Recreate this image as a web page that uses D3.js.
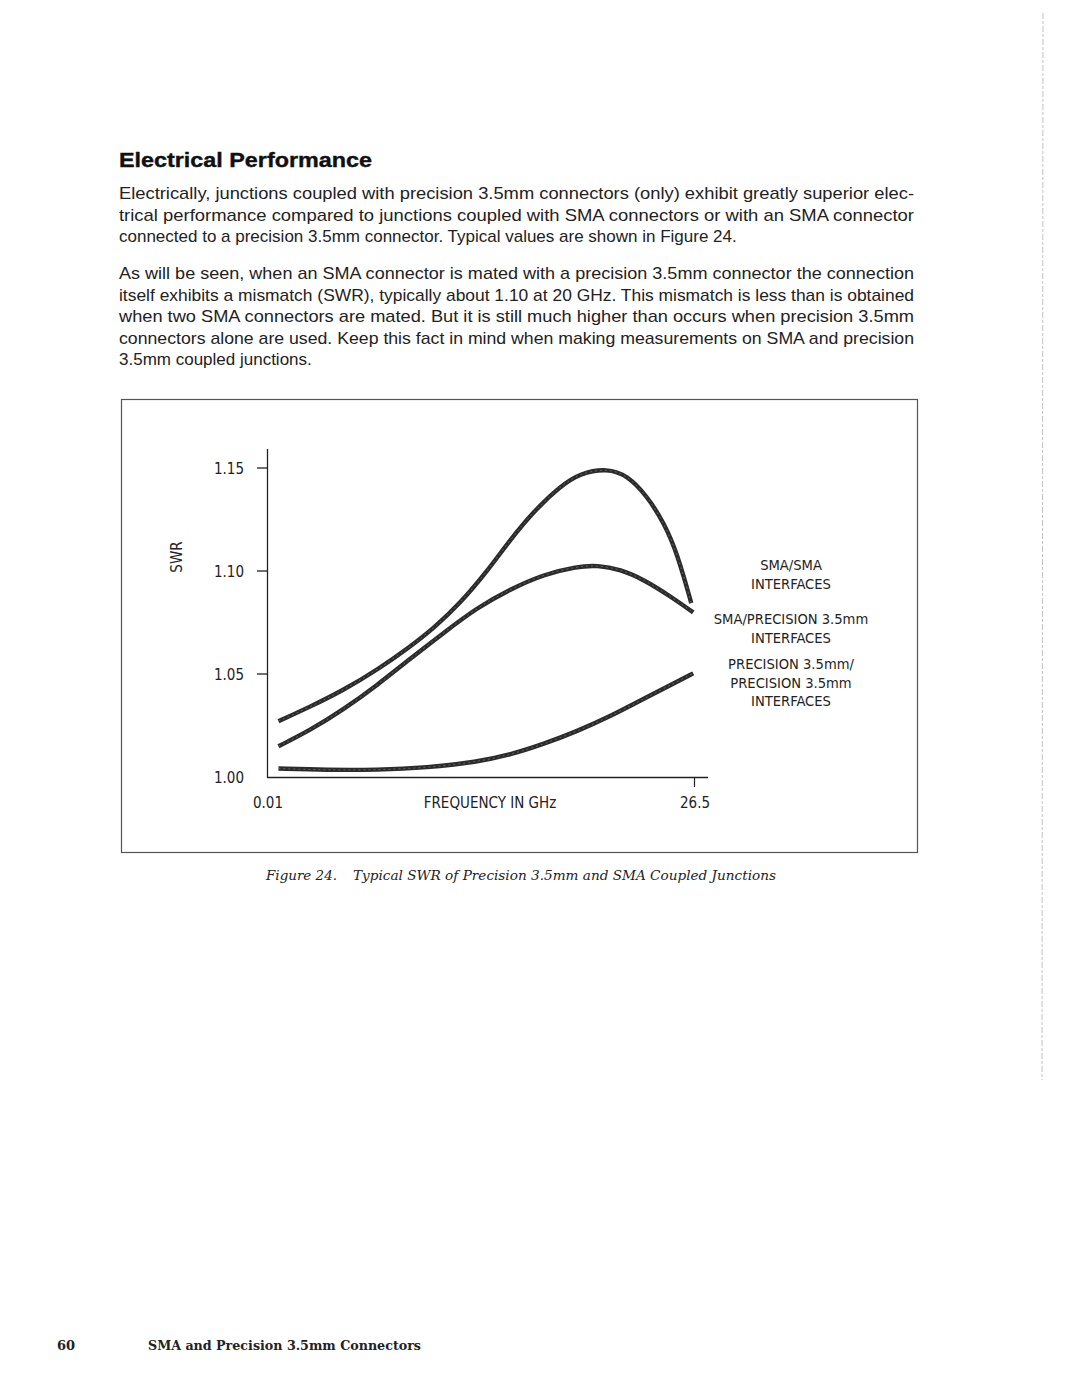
<!DOCTYPE html>
<html>
<head>
<meta charset="utf-8">
<script src="https://cdn.jsdelivr.net/npm/d3@7"></script>
<style>
  body { margin: 0; background: #fff; }
  svg { display: block; }
</style>
</head>
<body>
<svg id="page" width="1080" height="1397"></svg>
<script>
// values (GHz, SWR)
let freqSmaSma = [0.69, 2.66, 4.73, 6.80, 8.87, 10.32, 11.97, 13.63, 15.08, 16.53, 18.18, 19.42, 21.08, 22.32, 23.56, 24.6, 25.42, 26.3];
let swrSmaSma  = [1.0271, 1.0341, 1.0422, 1.0519, 1.0633, 1.0722, 1.0844, 1.0998, 1.1153, 1.129, 1.1412, 1.1475, 1.1498, 1.1465, 1.1364, 1.1234, 1.1088, 1.0844];

let freqSmaPrec = [0.69, 2.66, 4.73, 6.80, 8.87, 10.94, 13.01, 15.08, 17.15, 19.22, 20.46, 21.91, 23.36, 25.01, 26.42];
let swrSmaPrec  = [1.0149, 1.0227, 1.0328, 1.0445, 1.0575, 1.0700, 1.0822, 1.0912, 1.0984, 1.1022, 1.1028, 1.1008, 1.0958, 1.0877, 1.0799];

let freqPrecPrec = [0.69, 3.69, 6.80, 9.9, 13.01, 15.08, 17.15, 19.22, 21.29, 23.36, 25.22, 26.42];
let swrPrecPrec  = [1.0041, 1.0034, 1.0034, 1.0045, 1.0073, 1.0108, 1.0160, 1.0222, 1.0295, 1.0380, 1.0455, 1.0503];

let yTicks = [1.00, 1.05, 1.10, 1.15];
let xTicks = [0.01, 26.5];

let legendLines = [
  ["SMA/SMA", "INTERFACES"],
  ["SMA/PRECISION 3.5mm", "INTERFACES"],
  ["PRECISION 3.5mm/", "PRECISION 3.5mm", "INTERFACES"]
];

let para1 = [
  "Electrically, junctions coupled with precision 3.5mm connectors (only) exhibit greatly superior elec-",
  "trical performance compared to junctions coupled with SMA connectors or with an SMA connector",
  "connected to a precision 3.5mm connector. Typical values are shown in Figure 24."
];
let para2 = [
  "As will be seen, when an SMA connector is mated with a precision 3.5mm connector the connection",
  "itself exhibits a mismatch (SWR), typically about 1.10 at 20 GHz. This mismatch is less than is obtained",
  "when two SMA connectors are mated. But it is still much higher than occurs when precision 3.5mm",
  "connectors alone are used. Keep this fact in mind when making measurements on SMA and precision",
  "3.5mm coupled junctions."
];

let svg = d3.select("#page");
let sans = "'Liberation Sans', Arial, sans-serif";
let narrow = "'Liberation Sans Narrow', 'DejaVu Sans Condensed', sans-serif";
let serif = "'DejaVu Serif', 'Liberation Serif', serif";
let ink = "#222";

// 标题和正文
svg.append("text")
  .attr("x", 119).attr("y", 167)
  .attr("font-family", sans).attr("font-weight", "bold").attr("font-size", 21)
  .attr("fill", "#111")
  .attr("stroke", "#111").attr("stroke-width", 0.4)
  .attr("textLength", 253).attr("lengthAdjust", "spacingAndGlyphs")
  .text("Electrical Performance");

function paragraph(lines, y0) {
  lines.forEach(function (line, i) {
    let t = svg.append("text")
      .attr("x", 119).attr("y", y0 + i * 21.6)
      .attr("font-family", sans).attr("font-size", 17)
      .attr("fill", ink)
      .text(line);
    if (i < lines.length - 1)
      t.attr("textLength", 795).attr("lengthAdjust", "spacingAndGlyphs");
  });
}
paragraph(para1, 199);
paragraph(para2, 279);

// figure frame
svg.append("rect")
  .attr("x", 121.5).attr("y", 399.5)
  .attr("width", 796).attr("height", 453)
  .attr("fill", "none").attr("stroke", "#555").attr("stroke-width", 1.2);

// scales
let x = d3.scaleLinear().domain([0.01, 26.5]).range([267.5, 694.5]);
let y = d3.scaleLinear().domain([1.00, 1.15]).range([777, 468]);

// axis lines
svg.append("line")
  .attr("x1", 267.5).attr("x2", 267.5)
  .attr("y1", 449).attr("y2", 777.5)
  .attr("stroke", ink).attr("stroke-width", 1.3);
svg.append("line")
  .attr("x1", 267).attr("x2", 708)
  .attr("y1", 777.5).attr("y2", 777.5)
  .attr("stroke", ink).attr("stroke-width", 1.3);

// y ticks
let yAxis = d3.axisLeft(y).tickValues(yTicks).tickSize(0).tickPadding(0)
  .tickFormat(d3.format(".2f"));
let gy = svg.append("g").attr("transform", "translate(244,0)").call(yAxis);
gy.select(".domain").remove();
gy.selectAll("text")
  .attr("font-family", narrow).attr("font-size", 15).attr("fill", ink)
  .attr("dy", "0.35em");
svg.selectAll(".ytick")
  .data(yTicks.filter(d => d > 1.0))
  .join("line")
  .attr("class", "ytick")
  .attr("x1", 257).attr("x2", 267.5)
  .attr("y1", d => y(d)).attr("y2", d => y(d))
  .attr("stroke", ink).attr("stroke-width", 1.3);

// x ticks
let xAxis = d3.axisBottom(x).tickValues(xTicks).tickSize(0).tickPadding(0)
  .tickFormat(d => d == 0.01 ? "0.01" : "26.5");
let gx = svg.append("g").attr("transform", "translate(0,797)").call(xAxis);
gx.select(".domain").remove();
gx.selectAll("text")
  .attr("font-family", narrow).attr("font-size", 15).attr("fill", ink)
  .attr("dy", "0.71em");
svg.append("line")
  .attr("x1", x(26.5)).attr("x2", x(26.5))
  .attr("y1", 777.5).attr("y2", 787)
  .attr("stroke", ink).attr("stroke-width", 1.2);

svg.append("text")
  .attr("x", 490).attr("y", 808)
  .attr("text-anchor", "middle")
  .attr("font-family", narrow).attr("font-size", 15).attr("fill", ink)
  .text("FREQUENCY IN GHz");

svg.append("text")
  .attr("transform", "translate(182,557) rotate(-90)")
  .attr("text-anchor", "middle")
  .attr("font-family", narrow).attr("font-size", 15).attr("fill", ink)
  .text("SWR");

// curves
let line = d3.line()
  .x(d => x(d[0])).y(d => y(d[1]))
  .curve(d3.curveBasis);

let series = [
  d3.zip(freqSmaSma, swrSmaSma),
  d3.zip(freqSmaPrec, swrSmaPrec),
  d3.zip(freqPrecPrec, swrPrecPrec)
];
svg.selectAll(".curve")
  .data(series)
  .join("path")
  .attr("class", "curve")
  .attr("d", line)
  .attr("fill", "none")
  .attr("stroke", "#2b2b2b")
  .attr("stroke-width", 4.4)
  .attr("stroke-linecap", "butt");
// 纹理
svg.selectAll(".curvetex")
  .data(series)
  .join("path")
  .attr("class", "curvetex")
  .attr("d", line)
  .attr("fill", "none")
  .attr("stroke", "#8a8a8a")
  .attr("stroke-width", 1)
  .attr("stroke-dasharray", "2,3")
  .attr("opacity", 0.6);

// legend text
let legendY = [565, 619, 664];
legendLines.forEach(function (block, b) {
  block.forEach(function (txt, i) {
    svg.append("text")
      .attr("x", 791).attr("y", legendY[b] + i * 18.5 + 5)
      .attr("text-anchor", "middle")
      .attr("font-family", narrow).attr("font-size", 14.6).attr("fill", ink)
      .text(txt);
  });
});

// caption
svg.append("text")
  .attr("x", 266).attr("y", 880)
  .attr("font-family", serif).attr("font-style", "italic").attr("font-size", 13)
  .attr("fill", ink)
  .attr("textLength", 71).attr("lengthAdjust", "spacingAndGlyphs")
  .text("Figure 24.");
svg.append("text")
  .attr("x", 353).attr("y", 880)
  .attr("font-family", serif).attr("font-style", "italic").attr("font-size", 13)
  .attr("fill", ink)
  .attr("textLength", 423).attr("lengthAdjust", "spacingAndGlyphs")
  .text("Typical SWR of Precision 3.5mm and SMA Coupled Junctions");

// footer
svg.append("text")
  .attr("x", 57).attr("y", 1350)
  .attr("font-family", serif).attr("font-weight", "bold").attr("font-size", 13)
  .attr("fill", ink)
  .text("60");
svg.append("text")
  .attr("x", 148).attr("y", 1350)
  .attr("font-family", serif).attr("font-weight", "bold").attr("font-size", 13)
  .attr("fill", ink)
  .attr("textLength", 273).attr("lengthAdjust", "spacingAndGlyphs")
  .text("SMA and Precision 3.5mm Connectors");

// scan edge
svg.append("line")
  .attr("x1", 1043).attr("x2", 1042)
  .attr("y1", 13).attr("y2", 1080)
  .attr("stroke", "#aaa").attr("stroke-width", 1)
  .attr("stroke-dasharray", "6,2,3,2")
  .attr("opacity", 0.7);
</script>
</body>
</html>
